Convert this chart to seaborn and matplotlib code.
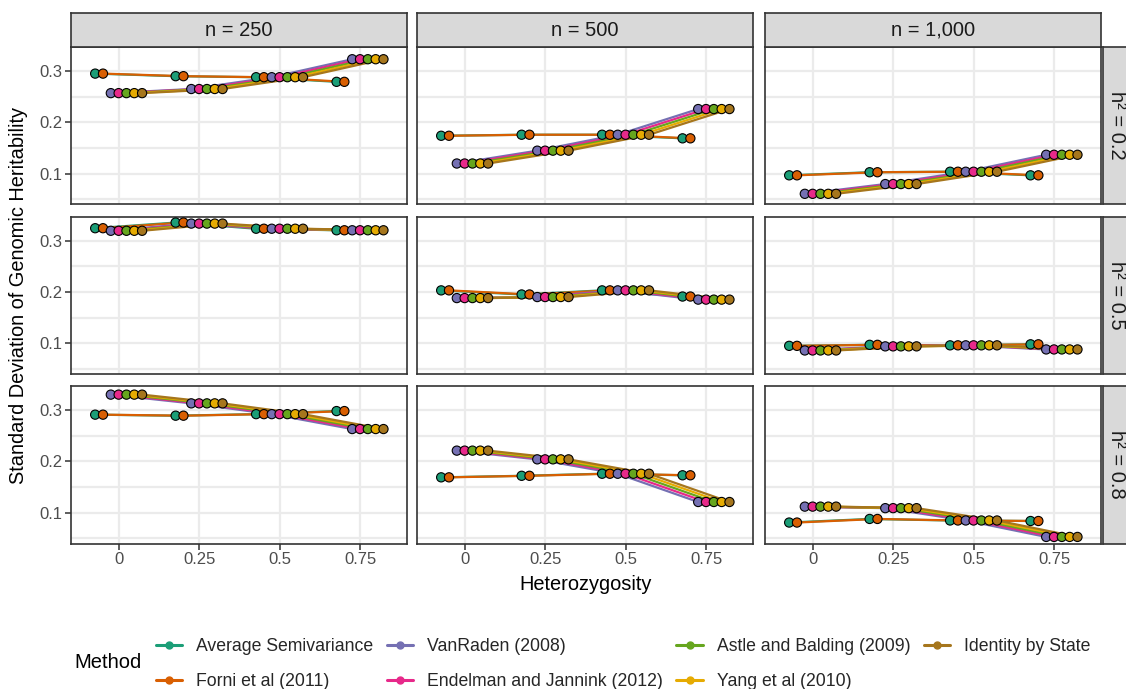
import numpy as np
import pandas as pd
import matplotlib
matplotlib.use("Agg")
import matplotlib.pyplot as plt
import seaborn as sns
from matplotlib.lines import Line2D

# ---------------- data ----------------
methods = ["Average Semivariance", "Forni et al (2011)", "VanRaden (2008)",
           "Endelman and Jannink (2012)", "Astle and Balding (2009)",
           "Yang et al (2010)", "Identity by State"]
colors = ["#1B9E77", "#D95F02", "#7570B3", "#E7298A", "#66A61E", "#E6AB02", "#A6761D"]
heterozygosity = [0, 0.25, 0.5, 0.75]
sample_sizes = ["n = 250", "n = 500", "n = 1,000"]
heritabilities = ["h\u00b2 = 0.2", "h\u00b2 = 0.5", "h\u00b2 = 0.8"]
x_ticks = [0, 0.25, 0.5, 0.75]
x_tick_labels = ["0", "0.25", "0.5", "0.75"]
y_ticks = [0.1, 0.2, 0.3]
y_tick_labels = ["0.1", "0.2", "0.3"]

# SD of genomic heritability per panel (h2 row, n col), values at heterozygosity 0..0.75
avg_semivariance = {
    ("h\u00b2 = 0.2", "n = 250"):   [0.295, 0.290, 0.288, 0.279],
    ("h\u00b2 = 0.2", "n = 500"):   [0.174, 0.176, 0.176, 0.169],
    ("h\u00b2 = 0.2", "n = 1,000"): [0.097, 0.103, 0.104, 0.097],
    ("h\u00b2 = 0.5", "n = 250"):   [0.324, 0.335, 0.323, 0.320],
    ("h\u00b2 = 0.5", "n = 500"):   [0.203, 0.195, 0.203, 0.191],
    ("h\u00b2 = 0.5", "n = 1,000"): [0.095, 0.097, 0.096, 0.098],
    ("h\u00b2 = 0.8", "n = 250"):   [0.291, 0.289, 0.292, 0.298],
    ("h\u00b2 = 0.8", "n = 500"):   [0.169, 0.172, 0.176, 0.173],
    ("h\u00b2 = 0.8", "n = 1,000"): [0.081, 0.088, 0.085, 0.084],
}
forni = {
    ("h\u00b2 = 0.2", "n = 250"):   [0.295, 0.290, 0.288, 0.279],
    ("h\u00b2 = 0.2", "n = 500"):   [0.174, 0.176, 0.176, 0.169],
    ("h\u00b2 = 0.2", "n = 1,000"): [0.097, 0.103, 0.104, 0.097],
    ("h\u00b2 = 0.5", "n = 250"):   [0.324, 0.335, 0.323, 0.320],
    ("h\u00b2 = 0.5", "n = 500"):   [0.203, 0.195, 0.203, 0.191],
    ("h\u00b2 = 0.5", "n = 1,000"): [0.095, 0.097, 0.096, 0.098],
    ("h\u00b2 = 0.8", "n = 250"):   [0.291, 0.289, 0.292, 0.298],
    ("h\u00b2 = 0.8", "n = 500"):   [0.169, 0.172, 0.176, 0.173],
    ("h\u00b2 = 0.8", "n = 1,000"): [0.081, 0.088, 0.085, 0.084],
}
vanraden = {
    ("h\u00b2 = 0.2", "n = 250"):   [0.257, 0.265, 0.288, 0.323],
    ("h\u00b2 = 0.2", "n = 500"):   [0.120, 0.145, 0.176, 0.226],
    ("h\u00b2 = 0.2", "n = 1,000"): [0.061, 0.080, 0.104, 0.137],
    ("h\u00b2 = 0.5", "n = 250"):   [0.319, 0.333, 0.323, 0.320],
    ("h\u00b2 = 0.5", "n = 500"):   [0.188, 0.190, 0.203, 0.185],
    ("h\u00b2 = 0.5", "n = 1,000"): [0.086, 0.094, 0.096, 0.088],
    ("h\u00b2 = 0.8", "n = 250"):   [0.330, 0.313, 0.292, 0.263],
    ("h\u00b2 = 0.8", "n = 500"):   [0.221, 0.204, 0.176, 0.121],
    ("h\u00b2 = 0.8", "n = 1,000"): [0.112, 0.109, 0.085, 0.053],
}
endelman = dict(vanraden)
astle = dict(vanraden)
yang = dict(vanraden)
ibs = dict(vanraden)
method_values = [avg_semivariance, forni, vanraden, endelman, astle, yang, ibs]

# ---------------- build long table ----------------
dodge_step = 0.0243
rows = []
for mi, (m, vals) in enumerate(zip(methods, method_values)):
    for (h2, n), ys in vals.items():
        for x, y in zip(heterozygosity, ys):
            rows.append(dict(Method=m, h2=h2, n=n, het=x,
                             xd=x + (mi - 3) * dodge_step, sd=y))
df = pd.DataFrame(rows)

# ---------------- styling ----------------
sns.set_theme(style="white")
plt.rcParams["font.family"] = ["Liberation Sans", "DejaVu Sans"]
palette = dict(zip(methods, colors))

W, H = 1126, 689
fig = plt.figure(figsize=(W / 100, H / 100), dpi=100)

col_left = [71, 417, 765]
panel_w = 336
row_top = [47, 216.5, 386]
panel_h = 157.5
strip_top_y = 13
strip_right_x = 1102.5
grey20 = "#333333"
grey30 = "#4D4D4D"
grid_c = "#EBEBEB"

xlim = (-0.148, 0.896)
ylim = (0.0402, 0.3468)

for r, h2 in enumerate(heritabilities):
    for c, n in enumerate(sample_sizes):
        ax = fig.add_axes([col_left[c] / W, 1 - (row_top[r] + panel_h) / H,
                           panel_w / W, panel_h / H])
        sub = df[(df.h2 == h2) & (df.n == n)]
        for yv in [0.05, 0.1, 0.15, 0.2, 0.25, 0.3]:
            ax.axhline(yv, color=grid_c, lw=1.6, zorder=0)
        for xv in x_ticks:
            ax.axvline(xv, color=grid_c, lw=1.6, zorder=0)
        sns.lineplot(data=sub, x="xd", y="sd", hue="Method", hue_order=methods,
                     palette=palette, estimator=None, sort=True, units="Method",
                     lw=1.6, legend=False, ax=ax, zorder=2)
        sns.scatterplot(data=sub, x="xd", y="sd", hue="Method", hue_order=methods,
                        palette=palette, s=44, edgecolor="black", linewidth=0.8,
                        legend=False, ax=ax, zorder=3)
        ax.set_xlim(xlim)
        ax.set_ylim(ylim)
        ax.set_xlabel("")
        ax.set_ylabel("")
        ax.set_xticks(x_ticks)
        ax.set_yticks(y_ticks)
        for sp in ax.spines.values():
            sp.set_color(grey20)
            sp.set_linewidth(1.2)
        ax.tick_params(axis="both", length=4, width=1.1, color=grey20,
                       labelcolor=grey30, labelsize=12, pad=2, direction="out")
        if c == 0:
            ax.set_yticklabels(y_tick_labels)
            ax.tick_params(axis="y", left=True)
        else:
            ax.tick_params(axis="y", left=False, labelleft=False)
        if r == 2:
            ax.set_xticklabels(x_tick_labels)
            ax.tick_params(axis="x", bottom=True)
        else:
            ax.tick_params(axis="x", bottom=False, labelbottom=False)

        if r == 0:
            sx = fig.add_axes([col_left[c] / W, 1 - row_top[r] / H,
                               panel_w / W, (row_top[r] - strip_top_y) / H])
            sx.set_facecolor("#D9D9D9")
            sx.set_xticks([]); sx.set_yticks([])
            for sp in sx.spines.values():
                sp.set_color(grey20); sp.set_linewidth(1.2)
            sx.text(0.5, 0.5, n, ha="center", va="center", fontsize=14.5,
                    color="#1A1A1A", transform=sx.transAxes)
        if c == 2:
            sy = fig.add_axes([strip_right_x / W, 1 - (row_top[r] + panel_h) / H,
                               (W - strip_right_x + 5) / W, panel_h / H])
            sy.set_facecolor("#D9D9D9")
            sy.set_xticks([]); sy.set_yticks([])
            for sp in sy.spines.values():
                sp.set_color(grey20); sp.set_linewidth(1.2)
            sy.text(0.48, 0.5, h2, ha="center", va="center", fontsize=14.5,
                    rotation=-90, color="#1A1A1A", transform=sy.transAxes)

# axis titles
fig.text(586 / W, 1 - 584 / H, "Heterozygosity", ha="center", va="center",
         fontsize=14.4, color="black")
fig.text(19 / W, 1 - 295 / H, "Standard Deviation of Genomic Heritability",
         ha="center", va="center", rotation=90, fontsize=14.4, color="black")

# legend
handles = [Line2D([0], [0], color=col, lw=2.2, marker="o", markersize=5,
                  markerfacecolor=col, markeredgecolor=col)
           for col in colors]
fig.text(74 / W, 1 - 663 / H, "Method", ha="left", va="center", fontsize=14.5,
         color="black")
fig.legend(handles, methods, loc="center left", ncol=4, frameon=False,
           bbox_to_anchor=(147 / W, 1 - 664 / H), fontsize=12.7,
           handlelength=1.5, handletextpad=0.8, columnspacing=0.75,
           labelspacing=1.05, borderpad=0)

fig.savefig("out.png", dpi=100)
